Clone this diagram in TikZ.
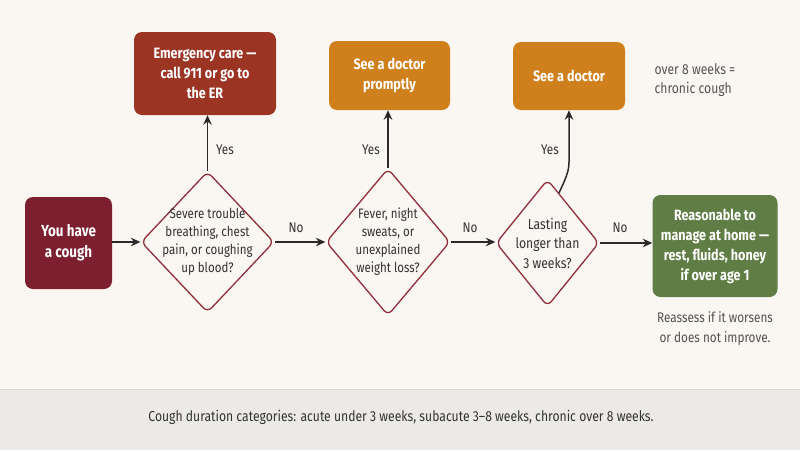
\documentclass[tikz,border=0pt]{standalone}
\usepackage{fontspec}
\setmainfont{Fira Sans}[FakeStretch=0.84]
\usetikzlibrary{arrows.meta,shapes.geometric,calc}
\definecolor{bg}{HTML}{FAF7F2}
\definecolor{footbg}{HTML}{ECEAE6}
\definecolor{footline}{HTML}{D9D6D1}
\definecolor{cstart}{HTML}{7C1F2E}
\definecolor{cemerg}{HTML}{9B3423}
\definecolor{corange}{HTML}{D07F1D}
\definecolor{cgreen}{HTML}{5F7D45}
\definecolor{dred}{HTML}{8E2F3B}
\definecolor{ink}{HTML}{333333}
\definecolor{grayink}{HTML}{555555}
\definecolor{arrowc}{HTML}{2A2A2A}
\begin{document}
\begin{tikzpicture}[x=1pt,y=-1pt,
  box/.style={rounded corners=8pt, text=white, align=center, inner sep=0pt,
    font=\bfseries\fontsize{15}{20}\selectfont},
  decision/.style={diamond, draw=dred, line width=1.3pt, fill=bg, rounded corners=6pt, inner sep=0pt},
  dtext/.style={font=\fontsize{13.7}{18}\selectfont, text=ink, align=center},
  arr/.style={draw=arrowc, line width=1.5pt, -{Stealth[length=9.5pt,width=8.5pt]}},
  lab/.style={font=\fontsize{14}{16}\selectfont, text=ink},
  note/.style={font=\fontsize{14.5}{19}\selectfont, text=grayink, align=left}
]
\fill[bg] (0,0) rectangle (800,450);
\useasboundingbox (0,0) rectangle (800,450);
\fill[footbg] (0,389) rectangle (800,450);
\draw[footline, line width=1pt] (0,389) -- (800,389);

% main row
\node[box, fill=cstart, minimum width=87, minimum height=92, font=\bfseries\fontsize{16}{21}\selectfont] (start) at (68.5,243) {You have\\a cough};
\node[decision, minimum width=133, minimum height=141] (d1) at (207.5,242) {};
\node[dtext] (t1) at (d1.center) {Severe trouble\\breathing, chest\\pain, or coughing\\up blood?};
\node[decision, minimum width=124, minimum height=147] (d2) at (388,242) {};
\node[dtext] (t2) at (d2.center) {Fever, night\\sweats, or\\unexplained\\weight loss?};
\node[decision, minimum width=103, minimum height=127] (d3) at (547.5,243) {};
\node[dtext, font=\fontsize{14.5}{19.5}\selectfont] (t3) at (d3.center) {Lasting\\longer than\\3 weeks?};
\node[box, fill=cgreen, minimum width=125, minimum height=102] (home) at (715,246) {Reasonable to\\manage at home —\\rest, fluids, honey\\if over age 1};

% top row
\node[box, fill=cemerg, minimum width=142, minimum height=83] (emerg) at (205,73.5) {Emergency care —\\call 911 or go to\\the ER};
\node[box, fill=corange, minimum width=121, minimum height=69] (doc1) at (389.5,75.5) {See a doctor\\promptly};
\node[box, fill=corange, minimum width=112, minimum height=68] (doc2) at (569,76) {See a doctor};

% connectors
\draw[arr] (start.east |- d1.west) -- (d1.west);
\draw[arr] (d1.east) -- (d1.east -| d2.west);
\draw[arr] (d2.east) -- (d2.east -| d3.west);
\draw[arr] (d3.east) -- (d3.east -| home.west);
\draw[arr] (d1.north) -- (d1.north |- emerg.south);
\draw[arr] (d2.north) -- (d2.north |- doc1.south);
\coordinate (s3) at ($(d3.north)!0.22!(d3.east)$);
\coordinate (bend) at (569,162);
\draw[arr] (s3) .. controls (565,180) and (569,172) .. (bend) -- (bend |- doc2.south);

% labels
\node[lab] (no1) at (296,228) {No};
\node[lab] (no2) at (470,228) {No};
\node[lab] (no3) at (620,228) {No};
\node[lab] (yes1) at (225,150) {Yes};
\node[lab] (yes2) at (371,150) {Yes};
\node[lab] (yes3) at (550,150) {Yes};

% notes
\node[note, anchor=west] (n1) at (651,80) {over 8 weeks =\\chronic cough};
\node[note, align=center, font=\fontsize{14}{20}\selectfont, text=ink!85] (n2) at (715,329) {Reassess if it worsens\\or does not improve.};
\node[font=\fontsize{14.5}{16}\selectfont, text=ink] (foot) at (401,417) {Cough duration categories: acute under 3 weeks, subacute 3–8 weeks, chronic over 8 weeks.};
\end{tikzpicture}
\end{document}
